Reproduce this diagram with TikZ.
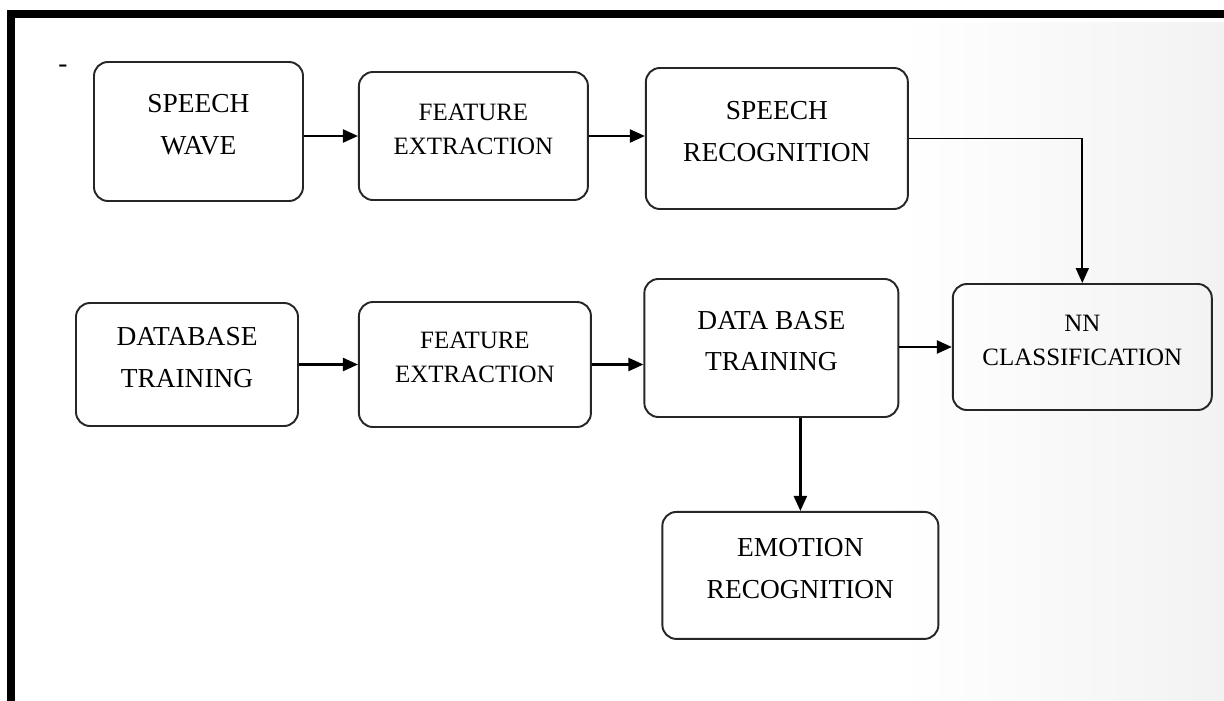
\documentclass[tikz,border=0pt]{standalone}
\usepackage{fontspec}
\setmainfont{Liberation Serif}
\usepackage{xcolor}
\usepackage{tikz}
\usetikzlibrary{arrows.meta,positioning}

\begin{document}
\begin{tikzpicture}[
  >={Triangle[length=0.3cm,width=0.26cm]},
  block/.style={draw=black!85, rounded corners=0.28cm, line width=1.1pt, align=center, text depth=0.28cm, font=\fontsize{15.6}{23.5}\selectfont},
  smallblock/.style={block, font=\fontsize{14.2}{19.5}\selectfont},
  arrow/.style={->, line width=1.3pt, black}
]
\useasboundingbox (0,0) rectangle (24.48,-14);

% page shading and frame
\shade[left color=white, right color=black!5] (18,-0.44) rectangle (24.48,-14);
\draw[line width=0.16cm] (0.22,-14.2) -- (0.22,-0.28) -- (24.6,-0.28);

\node[font=\fontsize{15.6}{18}\selectfont] (dash) at (1.26,-1.38) {-};

% top row
\node[block, minimum width=4.18cm, minimum height=2.78cm] (sw) at (3.97,-2.63) {SPEECH\\WAVE};
\node[smallblock, minimum width=4.58cm, minimum height=2.56cm, right=1.08cm of sw, yshift=-0.09cm] (fe1) {FEATURE\\EXTRACTION};
\node[block, minimum width=5.24cm, minimum height=2.82cm, right=1.12cm of fe1, yshift=-0.05cm] (sr) {SPEECH\\RECOGNITION};

% bottom row
\node[block, minimum width=4.44cm, minimum height=2.46cm] (db) at (3.74,-7.29) {DATABASE\\TRAINING};
\node[smallblock, minimum width=4.64cm, minimum height=2.5cm, right=1.18cm of db] (fe2) {FEATURE\\EXTRACTION};
\node[block, minimum width=5.08cm, minimum height=2.76cm, right=1.03cm of fe2, yshift=0.33cm] (dbt) {DATA BASE\\TRAINING};
\node[smallblock, minimum width=5.18cm, minimum height=2.52cm, right=1.05cm of dbt, yshift=0.02cm] (nn) {NN\\CLASSIFICATION};
\node[block, minimum width=5.52cm, minimum height=2.54cm, below=1.86cm of dbt, xshift=0.58cm] (er) {EMOTION\\RECOGNITION};

\draw[arrow] (sw.east |- fe1) -- (fe1.west);
\draw[arrow] (fe1.east) -- (fe1.east -| sr.west);
\draw[->, line width=1pt] (sr.east) -| (nn.north);
\draw[arrow] (db.east) -- (db.east -| fe2.west);
\draw[arrow] (fe2.east) -- (fe2.east -| dbt.west);
\draw[arrow] (dbt.east |- nn) -- (nn.west);
\draw[arrow] (er.north |- dbt.south) -- (er.north);

\end{tikzpicture}
\end{document}
